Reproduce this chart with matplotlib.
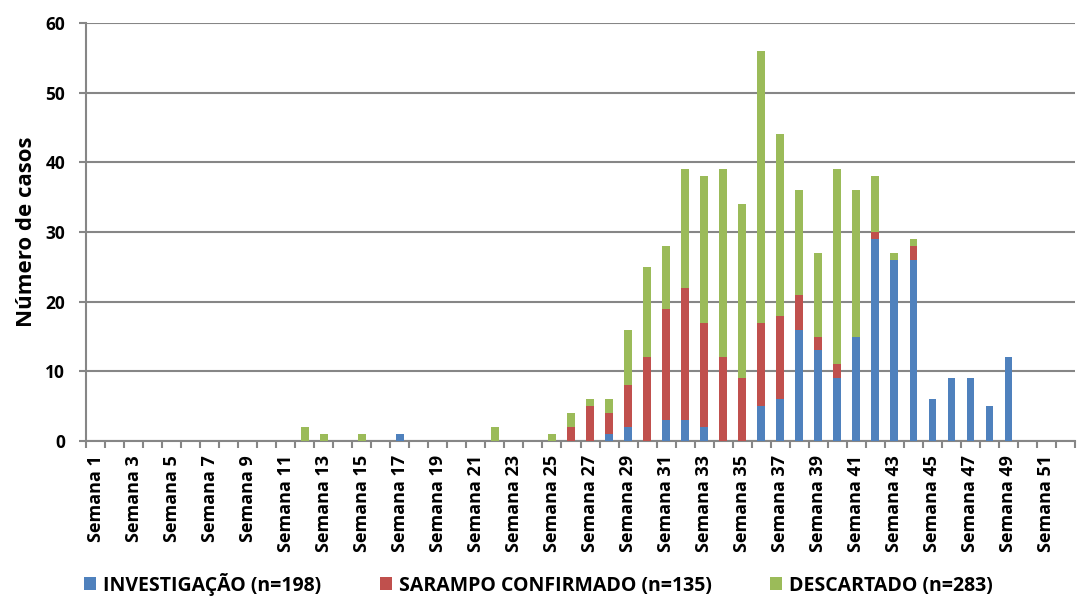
import numpy as np
import matplotlib
matplotlib.use('Agg')
import matplotlib.pyplot as plt

plt.rcParams['font.family'] = ['Open Sans', 'DejaVu Sans']
plt.rcParams['font.weight'] = 'bold'

# semanas epidemiologicas 1..52
semanas = np.arange(1, 53)

# casos por semana
investigacao = {17: 1, 28: 1, 29: 2, 31: 3, 32: 3, 33: 2, 36: 5, 37: 6, 38: 16,
                39: 13, 40: 9, 41: 15, 42: 29, 43: 26, 44: 26, 45: 6, 46: 9,
                47: 9, 48: 5, 49: 12}
confirmado = {26: 2, 27: 5, 28: 3, 29: 6, 30: 12, 31: 16, 32: 19, 33: 15, 34: 12,
              35: 9, 36: 12, 37: 12, 38: 5, 39: 2, 40: 2, 42: 1, 44: 2}
descartado = {12: 2, 13: 1, 15: 1, 22: 2, 25: 1, 26: 2, 27: 1, 28: 2, 29: 8,
              30: 13, 31: 9, 32: 17, 33: 21, 34: 27, 35: 25, 36: 39, 37: 26,
              38: 15, 39: 12, 40: 28, 41: 21, 42: 8, 43: 1, 44: 1}

inv = np.array([investigacao.get(s, 0) for s in semanas])
conf = np.array([confirmado.get(s, 0) for s in semanas])
desc = np.array([descartado.get(s, 0) for s in semanas])

lbl_inv = 'INVESTIGAÇÃO (n=198)'
lbl_conf = 'SARAMPO CONFIRMADO (n=135)'
lbl_desc = 'DESCARTADO (n=283)'

fig = plt.figure(figsize=(10.77, 6.01), dpi=100)
ax = fig.add_axes([0.0799, 0.2662, 0.9182, 0.6955])

x = semanas - 1  # posicao 0..51
w = 0.4
ax.bar(x, inv, w, color='#4F81BD', label=lbl_inv, zorder=3)
ax.bar(x, conf, w, bottom=inv, color='#C0504D', label=lbl_conf, zorder=3)
ax.bar(x, desc, w, bottom=inv + conf, color='#9BBB59', label=lbl_desc, zorder=3)

ax.set_xlim(-0.5, 51.5)
ax.set_ylim(0, 60)
ax.set_yticks(range(0, 61, 10))
ax.yaxis.grid(True, color='#868686', linewidth=1.5, zorder=0)
ax.tick_params(axis='y', length=5, width=1.5, color='#868686', labelsize=12.5, pad=10)

odd = semanas[semanas % 2 == 1]
ax.set_xticks(odd - 1)
ax.set_xticklabels(['Semana %d' % s for s in odd], rotation=90, fontsize=13)
ax.set_xticks(np.arange(-0.5, 52, 1), minor=True)
ax.tick_params(axis='x', which='major', length=0, pad=10)
ax.tick_params(axis='x', which='minor', length=5, width=1.5, color='#868686')

for s in ['top', 'right']:
    ax.spines[s].set_visible(False)
for s in ['left', 'bottom']:
    ax.spines[s].set_color('#868686')
    ax.spines[s].set_linewidth(1.5)

ax.set_ylabel('Número de casos', fontsize=16, fontweight='bold', labelpad=6)

fig.legend(loc='lower center', bbox_to_anchor=(0.5, -0.02), ncol=3, frameon=False,
           fontsize=14, handlelength=0.62, handleheight=0.62, handletextpad=0.36,
           columnspacing=3.0)

plt.savefig('out.png', dpi=100)
